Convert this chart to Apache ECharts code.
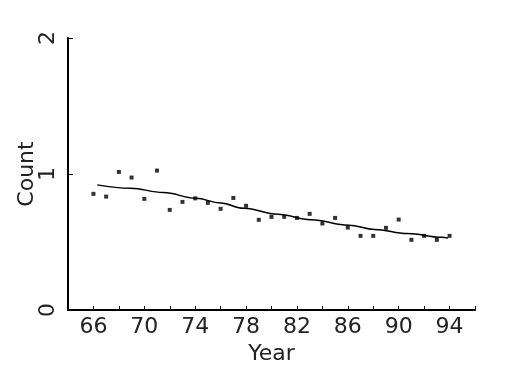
<!DOCTYPE html>
<html><head><meta charset="utf-8">
<script src="https://cdn.jsdelivr.net/npm/echarts@6/dist/echarts.min.js"></script>
<style>html,body{margin:0;padding:0;background:#fff}#c{width:525px;height:375px}</style>
</head><body><div id="c"></div>
<script>
const years = [66,67,68,69,70,71,72,73,74,75,76,77,78,79,80,81,82,83,84,85,86,87,88,89,90,91,92,93,94];
const counts = [0.854,0.834,1.015,0.974,0.817,1.025,0.736,0.795,0.821,0.788,0.744,0.824,0.766,0.663,0.685,0.685,0.677,0.707,0.636,0.677,0.606,0.545,0.545,0.604,0.665,0.516,0.545,0.516,0.545];
const fitYears = [66.3,68.9,71.5,74.05,76,77.84,80.48,83.1,86.08,88.1,90.7,93.4,93.87];
const fitValues = [0.92,0.895,0.864,0.822,0.786,0.748,0.704,0.664,0.624,0.592,0.562,0.535,0.53];
const xTickLabels = [66,70,74,78,82,86,90,94];
const yTickLabels = [0,1,2];

const font = 'DejaVu Sans';
const chart = echarts.init(document.getElementById('c'), null, {renderer:'canvas'});
chart.setOption({
  animation:false,
  backgroundColor:'#fff',
  grid:{left:68,right:50,top:38,bottom:65,containLabel:false,outerBoundsMode:'none'},
  xAxis:{
    type:'value', min:64, max:96, interval:2,
    name:'Year', nameLocation:'middle', nameGap:33, nameMoveOverlap:false,
    nameTextStyle:{fontFamily:font,fontSize:22,color:'#222'},
    axisLine:{show:true,lineStyle:{color:'#000',width:2}},
    axisTick:{show:true,inside:true,length:4,lineStyle:{color:'#000',width:1}},
    axisLabel:{fontFamily:font,fontSize:22,color:'#222',margin:6,
      formatter:v=>xTickLabels.includes(v)?String(v):''},
    splitLine:{show:false}
  },
  yAxis:{
    type:'value', min:0, max:2, interval:1,
    name:'Count', nameLocation:'middle', nameGap:30, nameRotate:90, nameMoveOverlap:false,
    nameTextStyle:{fontFamily:font,fontSize:22,color:'#222'},
    axisLine:{show:true,lineStyle:{color:'#000',width:2}},
    axisTick:{show:true,inside:true,length:5,lineStyle:{color:'#000',width:1}},
    axisLabel:{fontFamily:font,fontSize:22,color:'#222',rotate:90,margin:9,
      formatter:v=>yTickLabels.includes(v)?String(v):''},
    splitLine:{show:false}
  },
  series:[
    {type:'scatter',data:years.map((y,i)=>[y,counts[i]]),symbol:'rect',symbolSize:4,
     itemStyle:{color:'#000'}},
    {type:'line',data:fitYears.map((y,i)=>[y,fitValues[i]]),smooth:0.4,smoothMonotone:'x',showSymbol:false,
     lineStyle:{color:'#000',width:1.5}}
  ]
});
</script></body></html>
